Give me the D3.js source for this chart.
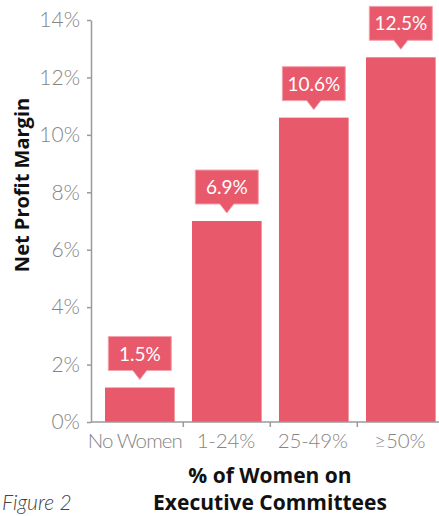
<!DOCTYPE html>
<html><head><meta charset="utf-8">
<script src="https://cdn.jsdelivr.net/npm/d3@7"></script>
<style>body{margin:0;background:#fff}svg{display:block}</style>
</head><body>
<script>
const categories = ["No Women", "1-24%", "25-49%", "≥50%"];
const barValues = [1.2, 7.0, 10.6, 12.7];
const labelTexts = ["1.5%", "6.9%", "10.6%", "12.5%"];
const yTicks = [0, 2, 4, 6, 8, 10, 12, 14];

const W = 439, H = 516;
const barColor = "#e8596b";
const axisColor = "#9a9a9a";
const tickText = "#858585";
const lightFont = "Lato, 'Open Sans', sans-serif";

const svg = d3.select("body").append("svg").attr("width", W).attr("height", H);

const y = d3.scaleLinear().domain([0, 14]).range([422, 20]);
const x = d3.scaleBand().domain(categories).range([96.3, 444.3]).paddingInner(0.2).paddingOuter(0.1);
const axisX = 91;

// Y axis
const yAxis = svg.append("g").attr("transform", `translate(${axisX},0)`)
  .call(d3.axisLeft(y).tickValues(yTicks).tickFormat(d => d + "%").tickSize(4).tickSizeOuter(0).tickPadding(7));
yAxis.select(".domain").attr("stroke", axisColor).attr("stroke-width", 1.5);
yAxis.selectAll(".tick line").attr("stroke", axisColor).attr("stroke-width", 1.5);
yAxis.selectAll(".tick text").attr("fill", tickText).attr("font-family", lightFont)
  .attr("font-weight", 300).attr("font-size", 21);

// Bars
svg.append("g").selectAll("rect").data(categories).join("rect")
  .attr("x", d => x(d)).attr("width", x.bandwidth())
  .attr("y", (d, i) => y(barValues[i]))
  .attr("height", (d, i) => y(0) - y(barValues[i]))
  .attr("fill", barColor);

// X axis line and boundary ticks
const gap = x.step() * x.paddingInner();
svg.append("line").attr("x1", axisX).attr("x2", W).attr("y1", y(0)).attr("y2", y(0))
  .attr("stroke", axisColor).attr("stroke-width", 1.5);
svg.append("g").selectAll("line").data(categories.slice(1)).join("line")
  .attr("x1", d => x(d) - gap / 2).attr("x2", d => x(d) - gap / 2)
  .attr("y1", y(0)).attr("y2", y(0) + 5)
  .attr("stroke", axisColor).attr("stroke-width", 1.5);
svg.append("g").selectAll("text").data(categories).join("text")
  .attr("x", (d, i) => x(d) + x.bandwidth() / 2 - (i === 0 ? 5 : 1)).attr("y", 448)
  .attr("text-anchor", "middle").attr("fill", tickText)
  .attr("font-family", lightFont).attr("font-weight", 300).attr("font-size", 20.5)
  .attr("letter-spacing", (d, i) => i === 0 ? -0.9 : -0.2)
  .text(d => d);

// Callout labels
const bw = 63, bh = 34;
const lab = svg.append("g").selectAll("g").data(categories).join("g")
  .attr("transform", (d, i) => `translate(${x(d) + x.bandwidth() / 2},${y(barValues[i])})`);
lab.append("path")
  .attr("d", `M${-bw/2},${-17-bh} h${bw} v${bh} h${-(bw/2-7)} l-7,9 l-7,-9 h${-(bw/2-7)} Z`)
  .attr("fill", barColor).attr("stroke", "#f3a3ad").attr("stroke-width", 1);
lab.append("text").attr("x", 0).attr("y", -17 - bh / 2 + 7)
  .attr("text-anchor", "middle").attr("fill", "#fff")
  .attr("font-family", lightFont).attr("font-weight", 400).attr("font-size", 19)
  .text((d, i) => labelTexts[i]);

// Axis titles
svg.append("text").attr("transform", "translate(29,185) rotate(-90)")
  .attr("text-anchor", "middle").attr("font-family", "'Open Sans', sans-serif")
  .attr("font-weight", 700).attr("font-size", 20).attr("fill", "#111")
  .text("Net Profit Margin");
const xt = svg.append("text").attr("text-anchor", "middle").attr("font-family", "'Open Sans', sans-serif")
  .attr("font-weight", 700).attr("font-size", 21).attr("fill", "#111");
xt.append("tspan").attr("x", 270).attr("y", 483).text("% of Women on");
xt.append("tspan").attr("x", 270).attr("y", 510).text("Executive Committees");

svg.append("text").attr("x", 2).attr("y", 510)
  .attr("font-family", lightFont).attr("font-weight", 300).attr("font-style", "italic")
  .attr("font-size", 21).attr("fill", "#444").text("Figure 2");
</script>
</body></html>
